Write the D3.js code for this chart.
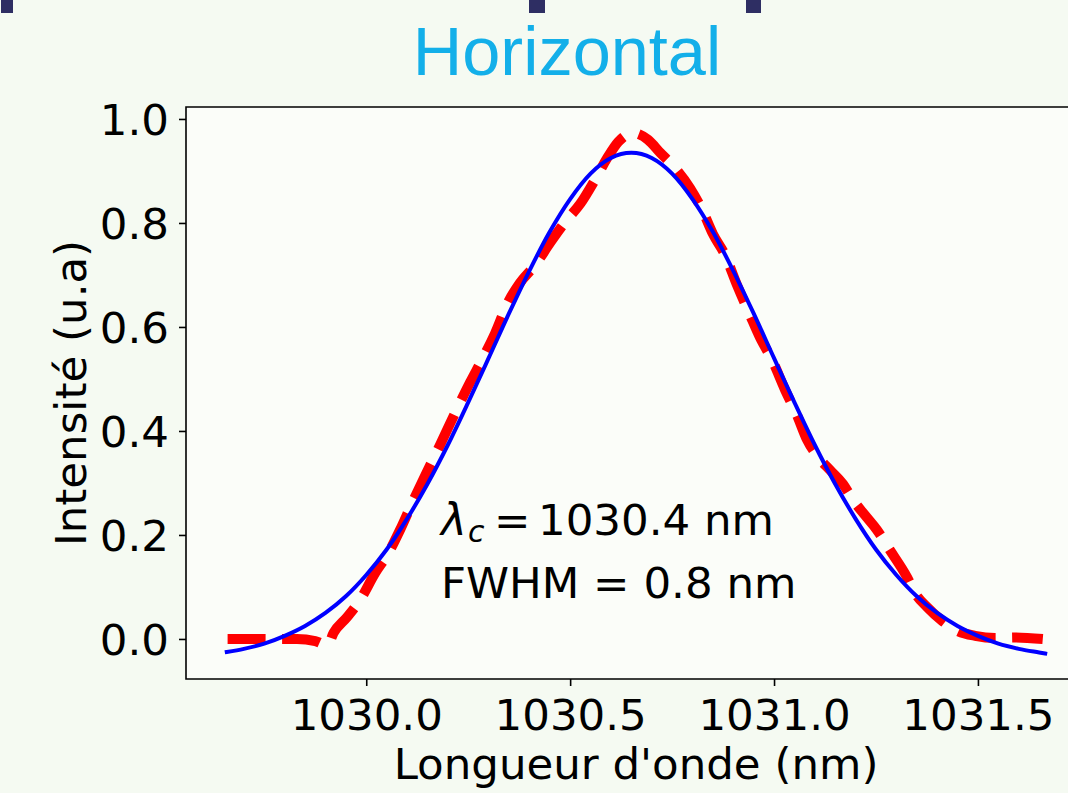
<!DOCTYPE html>
<html>
<head>
<meta charset="utf-8">
<script src="https://cdn.jsdelivr.net/npm/d3@7"></script>
<style>
    body { margin: 0; background: #f5faf2; overflow: hidden; }
    svg { display: block; }
    .axis text { font-family: "DejaVu Sans", sans-serif; font-size: 43.5px; fill: #000; }
    .axis line { stroke: #000; stroke-width: 1.6; }
    .label { font-family: "DejaVu Sans", sans-serif; font-size: 43.5px; fill: #000; }
</style>
</head>
<body>
<div id="chart"></div>
<script>
// fitted gaussian (blue)
const fitX = [1029.658, 1029.70, 1029.75, 1029.80, 1029.85, 1029.90, 1029.95, 1030.00, 1030.05, 1030.10,
    1030.15, 1030.20, 1030.25, 1030.30, 1030.35, 1030.40, 1030.45, 1030.50, 1030.55, 1030.60,
    1030.65, 1030.70, 1030.75, 1030.80, 1030.85, 1030.90, 1030.95, 1031.00, 1031.05, 1031.10,
    1031.15, 1031.20, 1031.25, 1031.30, 1031.35, 1031.40, 1031.45, 1031.50, 1031.55, 1031.60,
    1031.65, 1031.665];
const fitY = [-0.025, -0.019, -0.009, 0.006, 0.025, 0.050, 0.082, 0.123, 0.172, 0.231,
    0.298, 0.373, 0.455, 0.540, 0.626, 0.708, 0.783, 0.846, 0.895, 0.925,
    0.935, 0.925, 0.895, 0.846, 0.783, 0.708, 0.626, 0.540, 0.455, 0.373,
    0.298, 0.231, 0.172, 0.123, 0.082, 0.050, 0.025, 0.006, -0.009, -0.019,
    -0.026, -0.028];

// measured spectrum (red dashed)
const measX = [1029.66, 1029.74, 1029.83, 1029.875, 1029.905, 1029.92, 1029.953, 1029.985, 1030.022, 1030.054,
    1030.083, 1030.113, 1030.145, 1030.181, 1030.218, 1030.255, 1030.284, 1030.316, 1030.348, 1030.377,
    1030.414, 1030.451, 1030.488, 1030.525, 1030.561, 1030.591, 1030.618, 1030.654, 1030.691, 1030.721,
    1030.757, 1030.794, 1030.824, 1030.850, 1030.880, 1030.909, 1030.941, 1030.966, 1030.995, 1031.027,
    1031.056, 1031.081, 1031.108, 1031.137, 1031.169, 1031.194, 1031.223, 1031.252, 1031.284, 1031.326,
    1031.346, 1031.377, 1031.412, 1031.451, 1031.493, 1031.542, 1031.591, 1031.659];
const measY = [0.000, 0.000, 0.000, -0.004, -0.012, 0.012, 0.042, 0.075, 0.127, 0.165,
    0.210, 0.262, 0.315, 0.373, 0.435, 0.494, 0.537, 0.588, 0.648, 0.685,
    0.719, 0.762, 0.802, 0.837, 0.883, 0.925, 0.956, 0.973, 0.960, 0.935,
    0.906, 0.867, 0.825, 0.779, 0.738, 0.681, 0.623, 0.579, 0.537, 0.479,
    0.431, 0.383, 0.350, 0.325, 0.298, 0.267, 0.238, 0.210, 0.171, 0.119,
    0.088, 0.060, 0.035, 0.015, 0.006, 0.002, 0.003, 0.000];

const xTicks = [1030.0, 1030.5, 1031.0, 1031.5];
const yTicks = [0.0, 0.2, 0.4, 0.6, 0.8, 1.0];
const xDomain = [1029.558, 1031.765];
const yDomain = [-0.077, 1.023];

const titleText = 'Horizontal';
const xLabel = "Longueur d'onde (nm)";
const yLabel = 'Intensité (u.a)';
const centerText = '1030.4 nm';
const fwhmText = 'FWHM = 0.8 nm';

const W = 1068, H = 793;
// axes box in pixels (right edge runs past the window, as in the picture)
const _BOX = { left: 186, top: 107, right: 1086, bottom: 679 };

function SpectrumPlot() {
    this.x = d3.scaleLinear().domain(xDomain).range([_BOX.left, _BOX.right]);
    this.y = d3.scaleLinear().domain(yDomain).range([_BOX.bottom, _BOX.top]);
}

SpectrumPlot.prototype.init = function (domElem) {
    this.svg = d3.select(domElem).append('svg')
        .attr('width', W)
        .attr('height', H);

    this.svg.append('rect')
        .attr('width', W).attr('height', H)
        .attr('fill', '#f5faf2');

    this.drawDecor();
    this.drawAxesBox();
    this.drawCurves();
    this.drawAxes();
    this.drawText();
}

SpectrumPlot.prototype.drawDecor = function () {
    // little slide markers along the top edge
    this.svg.append('g').selectAll('rect')
        .data([[1, 12], [529, 16], [746, 15]])
        .join('rect')
        .attr('x', d => d[0]).attr('y', 0)
        .attr('width', d => d[1]).attr('height', 13)
        .attr('fill', '#2e2e63');

    this.svg.append('text')
        .attr('x', 567).attr('y', 75)
        .attr('text-anchor', 'middle')
        .style('font-family', '"Liberation Sans", Arial, sans-serif')
        .style('font-size', '68.5px')
        .attr('fill', '#13afe9')
        .text(titleText);
}

SpectrumPlot.prototype.drawAxesBox = function () {
    this.svg.append('rect')
        .attr('x', _BOX.left).attr('y', _BOX.top)
        .attr('width', _BOX.right - _BOX.left)
        .attr('height', _BOX.bottom - _BOX.top)
        .attr('fill', '#fbfdf9');
}

SpectrumPlot.prototype.drawCurves = function () {
    let self = this;
    let line = d3.line()
        .x(d => self.x(d[0]))
        .y(d => self.y(d[1]))
        .curve(d3.curveMonotoneX);

    let fit = fitX.map((v, i) => [v, fitY[i]]);
    let meas = measX.map((v, i) => [v, measY[i]]);

    this.svg.append('path')
        .datum(meas)
        .attr('d', line)
        .attr('fill', 'none')
        .attr('stroke', '#ff0000')
        .attr('stroke-width', 10)
        .attr('stroke-dasharray', '38,16.5')
        .attr('stroke-linejoin', 'round');

    this.svg.append('path')
        .datum(fit)
        .attr('d', line)
        .attr('fill', 'none')
        .attr('stroke', '#0000ff')
        .attr('stroke-width', 4)
        .attr('stroke-linejoin', 'round')
        .attr('stroke-linecap', 'square');
}

SpectrumPlot.prototype.drawAxes = function () {
    let xAxis = d3.axisBottom(this.x)
        .tickValues(xTicks)
        .tickFormat(d3.format('.1f'))
        .tickSize(7)
        .tickPadding(8);
    let gX = this.svg.append('g')
        .attr('class', 'axis axis--x')
        .attr('transform', 'translate(0,' + _BOX.bottom + ')')
        .call(xAxis);
    gX.select('.domain').remove();
    gX.selectAll('text').attr('dy', null).attr('y', 51);

    let yAxis = d3.axisLeft(this.y)
        .tickValues(yTicks)
        .tickFormat(d3.format('.1f'))
        .tickSize(7)
        .tickPadding(10);
    let gY = this.svg.append('g')
        .attr('class', 'axis axis--y')
        .attr('transform', 'translate(' + _BOX.left + ',0)')
        .call(yAxis);
    gY.select('.domain').remove();
    gY.selectAll('text').attr('dy', '0.35em');

    // spines: left, top, bottom
    this.svg.append('path')
        .attr('d', 'M' + _BOX.right + ',' + _BOX.top + 'H' + _BOX.left + 'V' + _BOX.bottom + 'H' + _BOX.right)
        .attr('fill', 'none')
        .attr('stroke', '#000')
        .attr('stroke-width', 1.6);
}

SpectrumPlot.prototype.drawText = function () {
    let midX = (_BOX.left + _BOX.right) / 2;
    let midY = (_BOX.top + _BOX.bottom) / 2;

    this.svg.append('text')
        .attr('class', 'label')
        .attr('x', midX).attr('y', 779)
        .attr('text-anchor', 'middle')
        .text(xLabel);

    this.svg.append('text')
        .attr('class', 'label')
        .attr('transform', 'translate(86,' + midY + ') rotate(-90)')
        .attr('text-anchor', 'middle')
        .text(yLabel);

    let t = this.svg.append('text')
        .attr('class', 'label')
        .attr('y', 535);
    t.append('tspan').attr('x', 441).style('font-style', 'italic').text('λ');
    t.append('tspan').attr('x', 468).attr('dy', 7)
        .style('font-style', 'italic').style('font-size', '30px').text('c');
    t.append('tspan').attr('x', 494).attr('dy', -7).text('=');
    t.append('tspan').attr('x', 538).text(centerText);

    this.svg.append('text')
        .attr('class', 'label')
        .attr('x', 441).attr('y', 598)
        .text(fwhmText);
}

new SpectrumPlot().init(document.getElementById('chart'));
</script>
</body>
</html>
